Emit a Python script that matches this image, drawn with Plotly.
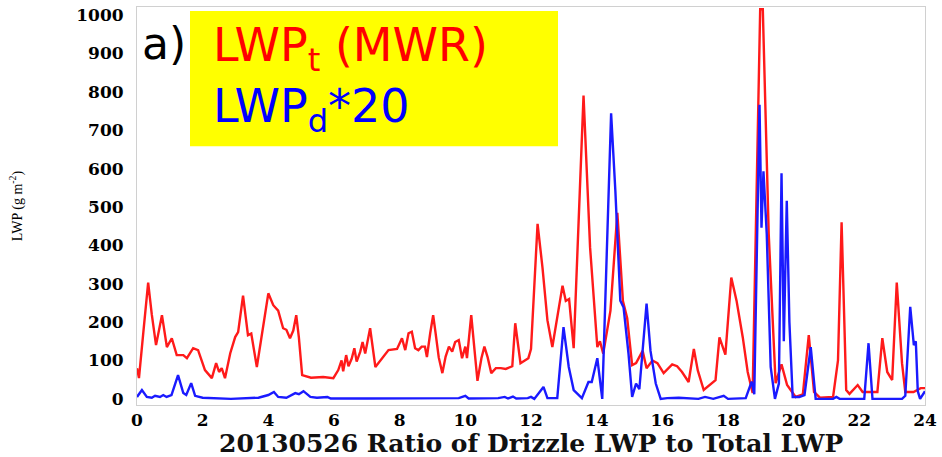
import plotly.graph_objects as go

# ---- data (hours, LWP g m^-2) ----
red_t = [0.00, 0.06, 0.20, 0.34, 0.45, 0.58, 0.76, 0.91, 1.06, 1.21, 1.41, 1.52, 1.71, 1.86,
         2.07, 2.28, 2.41, 2.50, 2.58, 2.68, 2.84, 2.99, 3.08, 3.23, 3.38, 3.48, 3.65, 3.81,
         4.00, 4.15, 4.30, 4.45, 4.55, 4.66, 4.76, 4.85, 4.93, 5.03, 5.30, 5.67, 5.98, 6.13,
         6.23, 6.28, 6.37, 6.44, 6.54, 6.62, 6.69, 6.80, 6.87, 6.95, 7.10, 7.26, 7.46, 7.66,
         7.92, 8.07, 8.17, 8.27, 8.37, 8.47, 8.57, 8.67, 8.77, 8.83, 8.93, 9.02, 9.09, 9.19,
         9.30, 9.40, 9.50, 9.60, 9.69, 9.80, 9.90, 10.00, 10.05, 10.18, 10.28, 10.37, 10.49,
         10.58, 10.68, 10.79, 10.93, 11.08, 11.23, 11.43, 11.52, 11.62, 11.68, 11.92, 12.00,
         12.20, 12.35, 12.50, 12.65, 12.96, 13.06, 13.16, 13.30, 13.60, 13.80, 14.02, 14.10,
         14.20, 14.42, 14.63, 14.80, 14.93, 15.08, 15.20, 15.40, 15.52, 15.70, 15.85, 16.04,
         16.30, 16.45, 16.60, 16.80, 16.96, 17.08, 17.26, 17.48, 17.62, 17.74, 17.92, 18.10,
         18.26, 18.45, 18.60, 18.75, 18.98, 19.06, 19.24, 19.45, 19.63, 19.80, 20.06, 20.28,
         20.46, 20.62, 20.80, 21.20, 21.35, 21.46, 21.60, 21.70, 21.95, 22.10, 22.55, 22.70,
         22.85, 23.00, 23.14, 23.30, 23.40, 23.65, 23.87, 24.00]
red_v = [80, 54, 180, 303, 220, 140, 218, 135, 158, 114, 114, 106, 132, 127,
         75, 54, 93, 70, 80, 54, 119, 161, 174, 269, 166, 170, 83, 171,
         275, 244, 230, 184, 180, 158, 178, 218, 160, 62, 55, 57, 54, 75,
         100, 72, 114, 85, 105, 132, 97, 123, 148, 118, 184, 83, 106, 127,
         130, 158, 127, 171, 175, 132, 127, 136, 136, 109, 171, 218, 174, 108,
         67, 110, 136, 123, 148, 153, 106, 136, 106, 218, 127, 47, 106,
         136, 108, 67, 80, 80, 78, 85, 197, 127, 93, 106, 130,
         456, 342, 205, 135, 295, 255, 260, 132, 790, 394, 135, 150,
         118, 230, 485, 255, 210, 88, 93, 125, 80, 100, 93, 67,
         90, 85, 70, 44, 130, 74, 23, 38, 49, 160, 115, 316,
         256, 160, 70, 15, 1015, 1015, 430, 41, 90, 36, 5, 12,
         166, 18, 3, 5, 100, 460, 23, 13, 36, 18, 18, 158,
         70, 49, 303, 93, 18, 18, 28, 28]

blue_t = [0.00, 0.15, 0.30, 0.45, 0.55, 0.70, 0.80, 0.90, 1.05, 1.25, 1.41, 1.50, 1.65, 1.77,
          2.00, 2.86, 3.70, 4.00, 4.17, 4.30, 4.55, 4.82, 4.93, 5.07, 5.28, 5.48, 5.80, 5.90,
          7.00, 8.00, 9.80, 10.00, 10.10, 11.00, 11.20, 11.30, 11.45, 11.55, 11.90, 12.00,
          12.10, 12.38, 12.50, 12.80, 12.99, 13.15, 13.30, 13.55, 13.75, 13.85, 14.02, 14.17,
          14.44, 14.57, 14.72, 14.82, 14.97, 15.08, 15.20, 15.30, 15.52, 15.64, 15.80, 15.95,
          16.15, 16.50, 17.10, 17.30, 17.55, 17.87, 18.00, 18.54, 18.72, 18.80, 18.96, 19.02,
          19.08, 19.18, 19.30, 19.43, 19.55, 19.63, 19.70, 19.79, 19.87, 19.97, 20.17, 20.33,
          20.52, 20.67, 21.20, 21.30, 21.40, 22.15, 22.28, 22.40, 23.30, 23.40, 23.55, 23.66,
          23.72, 23.78, 23.85, 24.00]
blue_v = [5, 23, 5, 3, 8, 5, 10, 5, 10, 62, 15, 10, 41, 8,
          3, 0, 3, 10, 18, 5, 3, 15, 12, 20, 5, 3, 5, 1,
          1, 1, 2, 8, 1, 2, 5, 1, 6, 1, 2, 5,
          0, 31, 2, 2, 187, 83, 23, 2, 44, 44, 106, 0,
          744, 541, 256, 238, 117, 5, 40, 25, 248, 125, 40, 0,
          2, 3, 0, 5, 0, 8, 0, 2, 45, 12, 766, 446,
          593, 430, 83, 0, 40, 588, 150, 516, 200, 5, 5, 10,
          135, 0, 0, 5, 0, 0, 145, 0, 0, 8, 240, 140,
          150, 20, 0, 20]

x_ticks = list(range(0, 25, 2))
y_ticks = list(range(0, 1001, 100))

# ---- layout geometry (pixels) ----
W, H = 942, 457
L, R, T, B = 137, 17, 5, 52
pw, ph = W - L - R, H - T - B


def px(x):
    return (x - L) / pw


def py(y):
    return (H - B - y) / ph


fig = go.Figure()
fig.add_trace(go.Scatter(x=red_t, y=red_v, mode="lines",
                         line=dict(color="#ff1a1a", width=2.4), showlegend=False))
fig.add_trace(go.Scatter(x=blue_t, y=blue_v, mode="lines",
                         line=dict(color="#1a1aff", width=2.4), showlegend=False))

serif = "DejaVu Serif"
fig.update_layout(
    width=W, height=H,
    margin=dict(l=L, r=R, t=T, b=B),
    paper_bgcolor="white", plot_bgcolor="white",
    xaxis=dict(range=[0, 24], tickvals=x_ticks, showgrid=False, zeroline=False,
               showline=True, linecolor="#d0d0d0", mirror=True,
               ticks="", ticklabelstandoff=0,
               tickfont=dict(family=serif, size=17, color="black", weight="bold")),
    yaxis=dict(range=[-16, 1021], tickvals=y_ticks, showgrid=False, zeroline=False,
               showline=True, linecolor="#d0d0d0", mirror=True,
               ticks="outside", ticklen=9, tickcolor="rgba(0,0,0,0)",
               tickfont=dict(family=serif, size=17, color="black", weight="bold"),
               title=dict(text="LWP (g m<sup>-2</sup>)",
                          font=dict(family="Liberation Serif", size=14, color="black"),
                          standoff=50)),
)

# x-axis title as annotation for exact placement
fig.add_annotation(xref="paper", yref="paper", x=0.5, y=py(444),
                   xanchor="center", yanchor="middle", showarrow=False,
                   text="20130526 Ratio of Drizzle LWP to Total LWP",
                   font=dict(family=serif, size=25, color="#111", weight="bold"))

# yellow legend box
fig.add_shape(type="rect", xref="paper", yref="paper",
              x0=px(190), x1=px(558), y0=py(145), y1=py(9),
              fillcolor="#ffff00", line=dict(width=0), layer="above")

sans = "DejaVu Sans"
fig.add_annotation(xref="paper", yref="paper", x=px(140), y=py(42),
                   xanchor="left", yanchor="middle", showarrow=False,
                   text="a)", font=dict(family=sans, size=44, color="black"))
fig.add_annotation(xref="paper", yref="paper", x=px(211), y=py(47),
                   xanchor="left", yanchor="middle", showarrow=False,
                   text="LWP<sub>t</sub> (MWR)", font=dict(family=sans, size=46, color="#ff0000"))
fig.add_annotation(xref="paper", yref="paper", x=px(211), y=py(108),
                   xanchor="left", yanchor="middle", showarrow=False,
                   text="LWP<sub>d</sub>*20", font=dict(family=sans, size=46, color="#0000ff"))

fig.write_html("out.html")
